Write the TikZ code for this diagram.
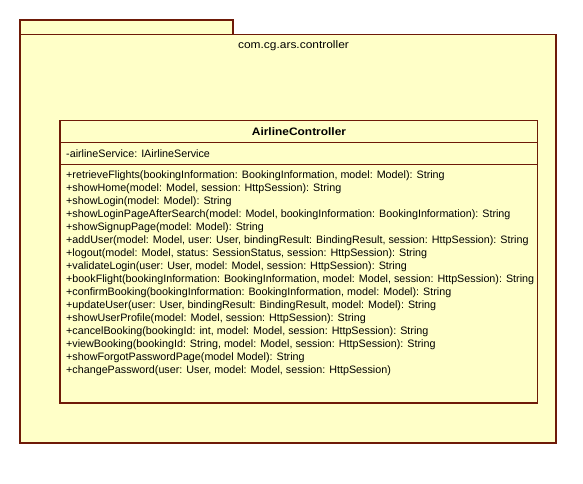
\documentclass[tikz,border=0pt]{standalone}
\usepackage{fontspec}
\setmainfont{Liberation Sans}
\definecolor{umlfill}{HTML}{FFFFC8}
\definecolor{umlline}{HTML}{6E1A08}
\begin{document}
\begin{tikzpicture}[x=1pt,y=-1pt,
  umlbox/.style={draw=umlline,fill=umlfill,line width=1.1pt},
  umlline/.style={draw=umlline,line width=1.1pt},
  optext/.style={anchor=west,inner sep=0pt,font=\fontsize{10.75}{12}\selectfont},
]
\useasboundingbox (0,0) rectangle (583,484);
% package
\path[umlbox] (20,20) rectangle (233,34.5);
\path[umlbox] (20,34.5) rectangle (556,443);
\node[inner sep=0pt,font=\fontsize{10.85}{12}\selectfont] (pkg) at (293.5,46) {\scalebox{1.1}[1]{com.cg.ars.controller}};
% class
\path[umlbox] (60,120.5) rectangle (537.5,403);
\draw[umlline] (60,142.5) -- (537.5,142.5);
\draw[umlline] (60,164.5) -- (537.5,164.5);
\node[inner sep=0pt,font=\fontsize{10.85}{12}\selectfont\bfseries] (cls) at (299,131.5) {\scalebox{1.1}[1]{AirlineController}};
\node[optext] (attr) at (66,153.5) {-airlineService: IAirlineService};
\foreach \i/\t in {
0/{+retrieveFlights(bookingInformation: BookingInformation, model: Model): String},
1/{+showHome(model: Model, session: HttpSession): String},
2/{+showLogin(model: Model): String},
3/{+showLoginPageAfterSearch(model: Model, bookingInformation: BookingInformation): String},
4/{+showSignupPage(model: Model): String},
5/{+addUser(model: Model, user: User, bindingResult: BindingResult, session: HttpSession): String},
6/{+logout(model: Model, status: SessionStatus, session: HttpSession): String},
7/{+validateLogin(user: User, model: Model, session: HttpSession): String},
8/{+bookFlight(bookingInformation: BookingInformation, model: Model, session: HttpSession): String},
9/{+confirmBooking(bookingInformation: BookingInformation, model: Model): String},
10/{+updateUser(user: User, bindingResult: BindingResult, model: Model): String},
11/{+showUserProfile(model: Model, session: HttpSession): String},
12/{+cancelBooking(bookingId: int, model: Model, session: HttpSession): String},
13/{+viewBooking(bookingId: String, model: Model, session: HttpSession): String},
14/{+showForgotPasswordPage(model Model): String},
15/{+changePassword(user: User, model: Model, session: HttpSession)}}
  \node[optext] (op\i) at (66,175.5+13*\i) {\t};
\end{tikzpicture}
\end{document}
